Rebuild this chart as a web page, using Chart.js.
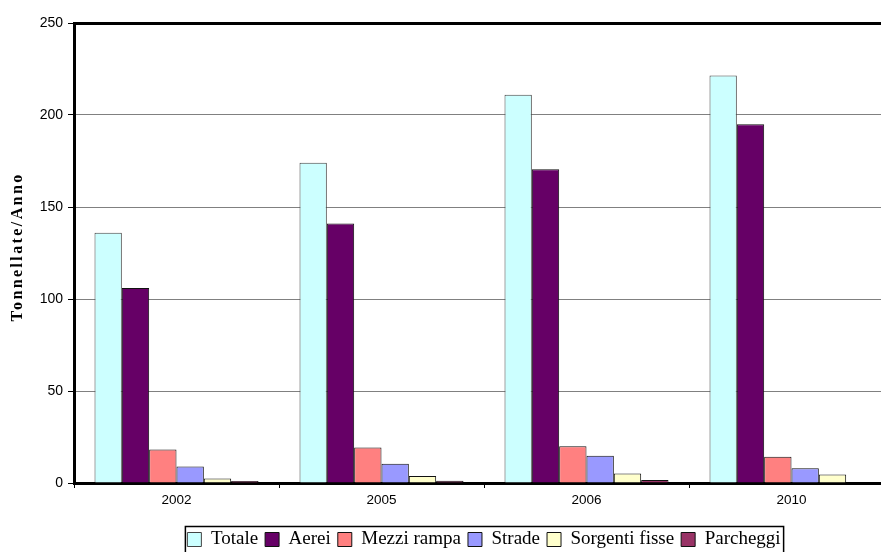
<!DOCTYPE html>
<html>
<head>
<meta charset="utf-8">
<script src="https://cdn.jsdelivr.net/npm/chart.js@4.4.0/dist/chart.umd.min.js"></script>
<style>
  html, body { margin: 0; padding: 0; background: #fff; overflow: hidden; }
  #wrap { position: absolute; left: 0; top: 0; width: 900px; height: 559px; }
</style>
</head>
<body>
<div id="wrap"><canvas id="chart"></canvas></div>
<script>
// --- dati ---
const years = ['2002', '2005', '2006', '2010'];
const totale = [136, 174, 211, 221.5];
const aerei = [106, 141, 170.5, 195];
const mezziRampa = [18.2, 19.3, 20, 14.3];
const strade = [9, 10.5, 14.8, 8];
const sorgentiFisse = [2.5, 3.8, 5.2, 4.6];
const parcheggi = [1.1, 1.2, 1.6, 0.3];
const yTicks = [0, 50, 100, 150, 200, 250];

const yTitle = 'Tonnellate/Anno';

// titolo asse Y disegnato a mano (spaziatura lettere come nell'originale)
const yTitlePlugin = {
    id: 'yTitle',
    afterDraw(chart) {
        const ctx = chart.ctx;
        ctx.save();
        ctx.translate(18, 247);
        ctx.rotate(-Math.PI / 2);
        ctx.font = 'bold 16px "Liberation Serif"';
        if ('letterSpacing' in ctx) ctx.letterSpacing = '2.4px';
        ctx.fillStyle = '#000';
        ctx.textAlign = 'center';
        ctx.textBaseline = 'middle';
        ctx.fillText(yTitle, 0, 0);
        ctx.restore();
    }
};

// legenda centrata sull'area del grafico + cornice
const legendBoxPlugin = {
    id: 'legendBox',
    afterLayout(chart) {
        const lg = chart.legend;
        const shift = (chart.chartArea.left + chart.chartArea.right) / 2 - (lg.left + lg.right) / 2;
        lg.left += shift;
        lg.right += shift;
    },
    afterDraw(chart) {
        const hb = chart.legend.legendHitBoxes;
        if (!hb || !hb.length) return;
        const left = Math.min(...hb.map(h => h.left)) - 2;
        const right = Math.max(...hb.map(h => h.left + h.width)) + 3;
        const mid = hb[0].top + hb[0].height / 2;
        const ctx = chart.ctx;
        ctx.save();
        ctx.strokeStyle = '#000';
        ctx.lineWidth = 1.5;
        ctx.strokeRect(left, mid - 13, right - left, 40);
        ctx.restore();
    }
};

const mk = (label, data, color, border) => ({
    label, data,
    backgroundColor: color,
    borderColor: border || '#111',
    borderWidth: 1,
    categoryPercentage: 0.8,
    barPercentage: 1.0
});

new Chart(document.getElementById('chart'), {
    type: 'bar',
    data: {
        labels: years,
        datasets: [
            mk('Totale', totale, '#CCFFFF', '#444'),
            mk('Aerei', aerei, '#660066'),
            mk('Mezzi rampa', mezziRampa, '#FF8080'),
            mk('Strade', strade, '#9999FF'),
            mk('Sorgenti fisse', sorgentiFisse, '#FFFFCC'),
            mk('Parcheggi', parcheggi, '#993366')
        ]
    },
    options: {
        responsive: true,
        maintainAspectRatio: false,
        animation: false,
        layout: { padding: { left: 0, right: 6, top: 23, bottom: 0 } },
        plugins: {
            legend: {
                position: 'bottom',
                labels: {
                    color: '#000',
                    font: { family: 'Liberation Serif', size: 19 },
                    boxWidth: 14,
                    boxHeight: 14,
                    padding: 7
                }
            },
            tooltip: { enabled: false }
        },
        scales: {
            x: {
                z: 1,
                afterFit(s) { s.height = 40; },
                grid: {
                    drawOnChartArea: false,
                    drawTicks: true,
                    tickLength: 5,
                    tickColor: '#000',
                    offset: true
                },
                border: { color: '#000', width: 3 },
                ticks: {
                    color: '#000',
                    padding: 4,
                    font: { family: 'Liberation Sans', size: 13.5 }
                }
            },
            y: {
                min: 0,
                max: 250,
                afterFit(s) { s.width = 74; },
                afterBuildTicks(s) { s.ticks = yTicks.map(v => ({ value: v })); },
                grid: {
                    color: ctx => (ctx.tick && ctx.tick.value === 250) ? '#000' : '#808080',
                    lineWidth: ctx => (ctx.tick && ctx.tick.value === 250) ? 3 : 1,
                    tickColor: '#000',
                    tickWidth: 1,
                    tickLength: 6
                },
                border: { color: '#000', width: 3 },
                ticks: {
                    color: '#000',
                    padding: 5,
                    font: { family: 'Liberation Sans', size: 14 }
                },
                title: { display: false }
            }
        }
    },
    plugins: [yTitlePlugin, legendBoxPlugin]
});
</script>
</body>
</html>
